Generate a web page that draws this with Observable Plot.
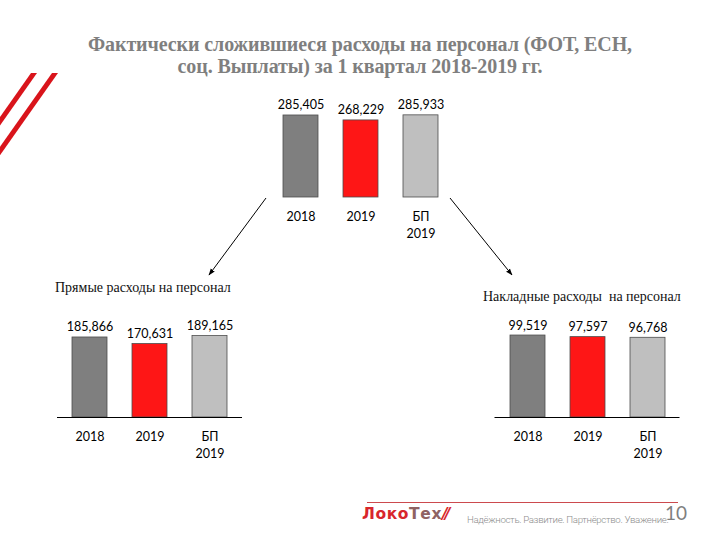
<!DOCTYPE html>
<html><head><meta charset="utf-8">
<script src="https://cdn.jsdelivr.net/npm/d3@7"></script>
<script src="https://cdn.jsdelivr.net/npm/@observablehq/plot@0.6"></script>
<style>
body{margin:0;background:#fff;}
#page{position:relative;width:720px;height:540px;overflow:hidden;background:#fff;font-family:Lato,sans-serif;}
.abs{position:absolute;white-space:nowrap;}
#title{left:0;top:33px;width:720px;text-align:center;font-family:"Liberation Serif","Times New Roman",serif;font-weight:bold;font-size:20px;line-height:22px;color:#7f7f7f;letter-spacing:-0.1px;}
.sub{font-family:"Liberation Serif","Times New Roman",serif;font-size:14px;line-height:16px;color:#111;}
</style></head><body><div id="page"></div>
<script>
// ---- data ----
const categories = ["2018", "2019", "БП 2019"];
const tickLabels = ["2018", "2019", "БП\n2019"];
const totalValues = [285.405, 268.229, 285.933];
const directValues = [185.866, 170.631, 189.165];
const overheadValues = [99.519, 97.597, 96.768];
const barColors = ["#7f7f7f", "#fe1616", "#bfbfbf"];
const titleLines = ["Фактически сложившиеся расходы на персонал (ФОТ, ЕСН,", "соц. Выплаты) за 1 квартал 2018-2019 гг."];
const directTitle = "Прямые расходы на персонал";
const overheadTitle = "Накладные расходы  на персонал";
const tagline = "Надёжность. Развитие. Партнёрство. Уважение.";
const pageNumber = "10";

const page = document.getElementById("page");
const fmt = v => d3.format(".3f")(v).replace(".", ",");

function barChart({values, left, top, width, height, marginLeft, marginRight, marginTop, marginBottom, yMax, axisLine}) {
  const data = categories.map((c, i) => ({cat: c, value: values[i]}));
  const marks = [
    Plot.barY(data, {x: "cat", y: "value", fill: "cat", stroke: "#4d4d4d", strokeWidth: 0.8}),
    Plot.text(data, {x: "cat", y: "value", text: d => fmt(d.value), lineAnchor: "middle", dy: -10, fontSize: 12.5, fill: "#000"}),
    Plot.axisX({tickSize: 0, tickPadding: 12, tickFormat: c => tickLabels[categories.indexOf(c)], fontSize: 12.5, lineHeight: 1.35, fill: "#000", label: null})
  ];
  if (axisLine) marks.push(Plot.ruleY([0], {stroke: "#000", strokeWidth: 1}));
  const chart = Plot.plot({
    width, height, marginLeft, marginRight, marginTop, marginBottom,
    style: {fontFamily: "Lato, sans-serif", fontSize: "12.5px", background: "transparent", overflow: "visible"},
    x: {domain: categories, paddingInner: 0.42, paddingOuter: 0.25},
    y: {domain: [0, yMax], axis: null},
    color: {domain: categories, range: barColors},
    marks
  });
  chart.style.position = "absolute";
  chart.style.left = left + "px";
  chart.style.top = top + "px";
  page.appendChild(chart);
}

barChart({values: totalValues, left: 200, top: 90, width: 320, height: 160,
  marginLeft: 67.5, marginRight: 67.5, marginTop: 20.8, marginBottom: 53, yMax: 300, axisLine: false});
barChart({values: directValues, left: 30, top: 300, width: 250, height: 170,
  marginLeft: 27, marginRight: 38, marginTop: 30.9, marginBottom: 53, yMax: 200, axisLine: true});
barChart({values: overheadValues, left: 470, top: 300, width: 240, height: 170,
  marginLeft: 24.5, marginRight: 30.5, marginTop: 26.4, marginBottom: 53, yMax: 110, axisLine: true});

// ---- texts ----
function addDiv(cls, html, css) {
  const d = document.createElement("div");
  d.className = "abs " + cls;
  d.innerHTML = html;
  Object.assign(d.style, css);
  page.appendChild(d);
  return d;
}
addDiv("", titleLines.join("<br>"), {}).id = "title";
addDiv("sub", directTitle, {left: "55px", top: "280px"});
addDiv("sub", overheadTitle.replace(/  /g, "&nbsp; "), {left: "483px", top: "289px"});

// footer
addDiv("", '<span style="color:#d8262c">Локо</span><span style="color:#8f6262">Тех</span><span style="color:#d8262c;font-style:italic;letter-spacing:-3px">//</span>',
  {left: "362px", top: "505px", fontFamily: "'DejaVu Sans', sans-serif", fontWeight: "bold", fontSize: "15.5px", letterSpacing: "0.6px", lineHeight: "18px"});
addDiv("", tagline, {left: "467px", top: "513px", fontFamily: "Roboto, sans-serif", fontWeight: "300", fontSize: "9.7px", letterSpacing: "-0.35px", color: "#8c8c8c", lineHeight: "14px"});
addDiv("", pageNumber, {left: "665px", top: "502px", fontFamily: "Lato, sans-serif", fontSize: "19px", color: "#7f7f7f", lineHeight: "22px"});

// ---- decorations (overlay) ----
const ns = "http://www.w3.org/2000/svg";
const svg = document.createElementNS(ns, "svg");
svg.setAttribute("width", 720); svg.setAttribute("height", 540);
svg.style.position = "absolute"; svg.style.left = "0"; svg.style.top = "0"; svg.style.pointerEvents = "none";
svg.innerHTML = `
<defs><marker id="ah" viewBox="0 0 10 10" refX="9" refY="5" markerWidth="7" markerHeight="7" orient="auto">
<path d="M0,1.5 L10,5 L0,8.5 z" fill="#000"/></marker></defs>
<polygon points="31,73 37,73 -23,158 -29,158" fill="#d9141b"/>
<polygon points="52,73 58,73 -2,158 -8,158" fill="#d9141b"/>
<line x1="266" y1="198" x2="209" y2="275" stroke="#000" stroke-width="1" marker-end="url(#ah)"/>
<line x1="450" y1="198" x2="512" y2="275" stroke="#000" stroke-width="1" marker-end="url(#ah)"/>
<line x1="367" y1="502.5" x2="678" y2="502.5" stroke="#cc4a4e" stroke-width="1"/>
`;
page.appendChild(svg);
</script></body></html>
